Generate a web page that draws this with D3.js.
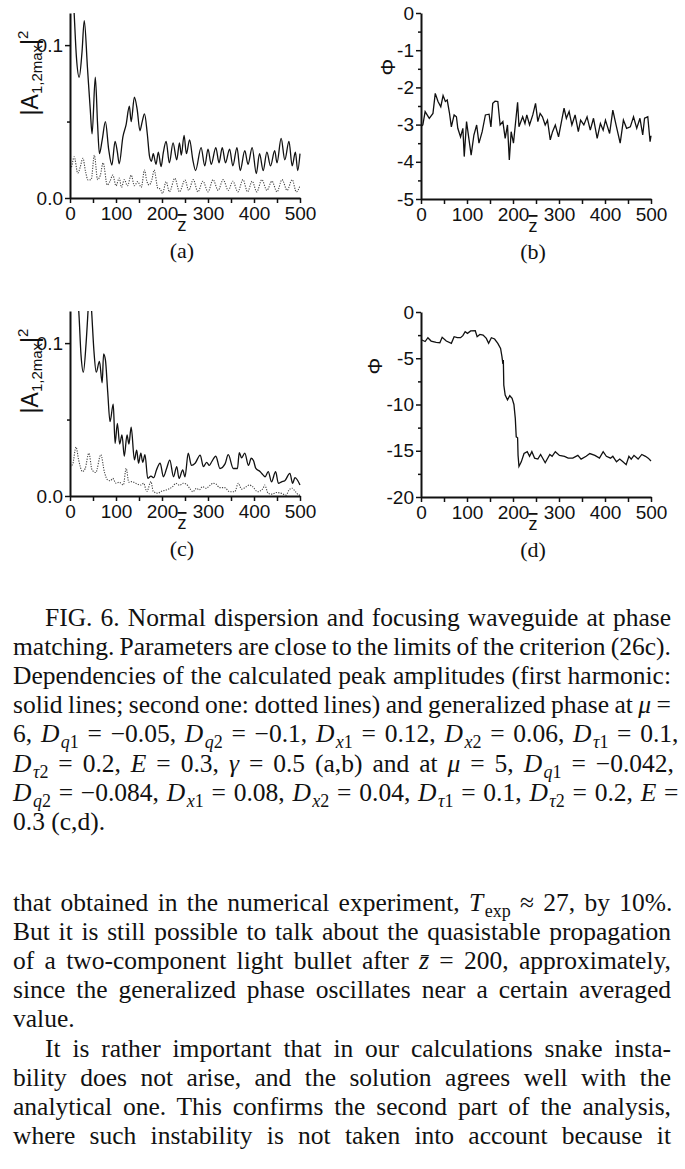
<!DOCTYPE html>
<html>
<head>
<meta charset="utf-8">
<title>Fig. 6</title>
<script src="https://d3js.org/d3.v7.min.js"></script>
<style>
  body { margin: 0; background: #fff; }
  .axis path.domain { fill: none; stroke: #111; stroke-width: 2px; }
  .axis line { stroke: #111; stroke-width: 1.5px; }
  .axis text { font-family: "Liberation Sans", Arial, sans-serif; font-size: 19px; fill: #111; }
  .solid { fill: none; stroke: #111; stroke-width: 1.3px; }
  .dotted { fill: none; stroke: #444; stroke-width: 1.1px; stroke-dasharray: 1.2, 1.3; }
  .lab { font-family: "Liberation Sans", Arial, sans-serif; fill: #111; }
  .cap { font-family: "Liberation Serif", "Times New Roman", serif; font-size: 22px; fill: #111; }
  .txt { font-family: "Liberation Serif", "Times New Roman", serif; font-size: 25.5px; fill: #111; }
</style>
</head>
<body>
<script>
// x ticks shared by all panels (labels only at hundreds)
var xTicks = [0, 50, 100, 150, 200, 250, 300, 350, 400, 450, 500];
var ampTicks = [0, 0.05, 0.1];
var phaseTicksB = [0, -0.5, -1, -1.5, -2, -2.5, -3, -3.5, -4, -4.5, -5];
var phaseTicksD = [0, -2.5, -5, -7.5, -10, -12.5, -15, -17.5, -20];
var panelNames = ["(a)", "(b)", "(c)", "(d)"];

// (a) first harmonic (solid) and second harmonic (dotted)
var aZ = [0,4,9,14,20,26,31,38,44,48,55,60,64,70,77,84,91,98,103,107,115,122,129,133,140,146,152,157,162,168,173,177,181,187,192,198,203,209,216,224,232,238,242,248,253,260,267,273,285,293,300,307,317,324,331,338,347,354,363,370,380,387,396,405,412,420,428,436,445,450,459,467,476,483,490,495,500];
var aSolid = [0.125,0.15,0.121,0.092,0.079,0.095,0.116,0.085,0.058,0.042,0.079,0.048,0.029,0.038,0.050,0.032,0.0216,0.037,0.030,0.0224,0.040,0.048,0.060,0.050,0.066,0.058,0.044,0.050,0.055,0.042,0.027,0.024,0.029,0.022,0.030,0.0205,0.030,0.037,0.023,0.036,0.025,0.036,0.028,0.041,0.029,0.038,0.025,0.018,0.033,0.021,0.032,0.022,0.033,0.023,0.033,0.023,0.032,0.021,0.033,0.018,0.031,0.022,0.033,0.016,0.029,0.018,0.030,0.021,0.031,0.023,0.039,0.025,0.037,0.021,0.030,0.018,0.029];
var aDotZ = [0,3,9,17,22,28,34,39,46,53,60,66,72,81,87,93,100,107,112,118,125,133,140,147,155,162,167,172,178,183,191,196,201,209,216,228,238,250,258,268,278,289,300,311,322,333,344,354,365,376,386,396,406,417,428,439,450,461,472,483,492,500];
var aDotted = [0.019,0.020,0.027,0.0163,0.020,0.026,0.017,0.0118,0.012,0.028,0.012,0.015,0.023,0.0085,0.011,0.015,0.008,0.013,0.007,0.012,0.008,0.015,0.008,0.0107,0.007,0.0183,0.011,0.0085,0.012,0.0183,0.0063,0.006,0.003,0.0107,0.004,0.0129,0.004,0.0118,0.005,0.012,0.004,0.011,0.004,0.012,0.005,0.012,0.005,0.011,0.004,0.012,0.004,0.011,0.004,0.012,0.005,0.011,0.004,0.012,0.005,0.012,0.004,0.008];

// (b) generalized phase
var bZ = [0,4,9,14,18,26,31,37,43,48,53,57,62,66,72,77,80,86,91,94,99,104,109,115,121,126,133,140,148,152,156,161,167,172,178,183,188,192,196,201,210,213,221,226,230,236,243,249,254,259,264,270,275,281,286,292,299,306,311,316,322,328,335,342,347,354,361,368,375,383,390,396,401,410,417,424,433,440,447,455,462,469,476,482,486,493,498,500];
var bPhase = [-3.05,-3.01,-2.65,-2.75,-2.83,-2.70,-2.16,-2.38,-2.52,-2.22,-2.38,-2.34,-2.70,-3.06,-2.74,-2.79,-3.10,-3.33,-3.10,-3.86,-2.92,-3.37,-3.82,-3.28,-3.01,-3.50,-3.19,-2.74,-2.72,-3.06,-2.43,-2.37,-2.38,-3.01,-2.92,-3.37,-3.01,-3.95,-3.19,-3.50,-2.40,-3.06,-2.79,-2.97,-2.74,-3.01,-2.74,-2.43,-2.92,-2.70,-2.79,-3.01,-2.88,-3.41,-3.19,-3.01,-3.33,-2.88,-2.56,-2.83,-2.65,-3.01,-2.74,-3.19,-2.88,-3.01,-2.79,-3.15,-2.83,-3.37,-2.97,-3.15,-2.88,-3.24,-2.61,-3.01,-3.50,-2.88,-3.10,-3.06,-2.79,-3.10,-2.83,-3.28,-2.83,-2.79,-3.46,-3.30];

// (c) first harmonic (solid) and second harmonic (dotted)
var cZ = [0,5,12,19,24,29,35,40,43,47,52,57,64,70,73,77,82,87,94,98,103,108,113,118,124,128,133,140,145,149,154,158,163,169,176,182,188,196,203,210,217,225,232,237,245,250,257,264,272,283,290,297,303,308,317,326,337,344,355,364,368,373,380,388,394,399,404,413,419,424,431,438,447,453,460,467,478,484,489,500];
var cSolid = [0.125,0.15,0.135,0.121,0.092,0.081,0.100,0.125,0.14,0.121,0.095,0.081,0.088,0.074,0.093,0.089,0.068,0.0486,0.060,0.0344,0.0475,0.034,0.040,0.026,0.040,0.034,0.045,0.0236,0.030,0.0215,0.028,0.022,0.027,0.0115,0.013,0.012,0.017,0.0215,0.0126,0.018,0.0235,0.0126,0.0192,0.0115,0.017,0.0126,0.028,0.020,0.0214,0.0268,0.0192,0.022,0.020,0.0224,0.026,0.018,0.021,0.027,0.018,0.018,0.0283,0.025,0.028,0.020,0.0247,0.023,0.018,0.016,0.014,0.0126,0.016,0.0093,0.0159,0.0083,0.0093,0.010,0.0148,0.0083,0.012,0.0072];
var cDotZ = [0,6,13,19,27,33,41,48,56,67,75,82,88,93,100,107,116,122,128,135,143,154,160,167,176,181,191,198,209,223,230,238,246,253,260,267,275,281,288,296,303,311,318,325,336,347,358,366,373,383,390,397,408,420,423,431,440,449,460,470,476,483,490,498,500];
var cDotted = [0.019,0.021,0.032,0.0233,0.016,0.018,0.028,0.017,0.0154,0.027,0.0154,0.0105,0.010,0.0115,0.0083,0.009,0.0072,0.0181,0.009,0.0094,0.0083,0.0072,0.0083,0.0029,0.0094,0.003,0.0018,0.003,0.0039,0.0061,0.0083,0.007,0.0083,0.0077,0.0051,0.0028,0.005,0.004,0.0061,0.005,0.0066,0.0083,0.0077,0.0055,0.0055,0.0028,0.0028,0.0083,0.0045,0.0061,0.0072,0.0061,0.0028,0.0051,0.0072,0.0017,0.0012,0.0023,0.0017,0.0006,0.0039,0.0051,0.0028,0.0006,0.0006];

// (d) generalized phase
var dZ = [0,2,9,15,22,33,41,46,55,66,72,79,86,91,96,101,108,118,122,128,135,142,147,153,160,167,173,176,178,179,180,183,188,193,198,202,205,207,210,211,213,218,224,231,236,241,247,254,260,270,280,285,292,301,312,320,330,341,348,359,367,378,388,396,403,412,417,425,432,439,446,452,457,463,472,480,488,494,500];
var dPhase = [-3.0,-3.03,-3.19,-2.78,-3.14,-3.28,-3.32,-2.74,-3.14,-3.39,-2.67,-2.78,-2.78,-2.56,-2.13,-2.31,-2.05,-2.02,-2.67,-2.42,-2.49,-2.85,-3.39,-2.78,-2.92,-3.39,-3.93,-4.83,-5.6,-5.2,-7.9,-8.98,-9.5,-9.05,-9.33,-10.0,-11.5,-13.5,-13.6,-15.5,-16.7,-16.2,-15.3,-15.1,-15.6,-15.1,-15.8,-15.9,-15.4,-16.3,-15.4,-15.6,-15.1,-15.5,-15.6,-15.8,-15.8,-15.5,-15.9,-15.6,-15.3,-15.5,-15.8,-15.1,-15.6,-15.8,-15.6,-16.2,-15.9,-16.2,-16.5,-15.6,-15.9,-15.5,-15.9,-15.4,-15.6,-15.8,-16.1];

// caption and running text, $..$ marks math
var captionLines = [
  "FIG. 6. Normal dispersion and focusing waveguide at phase",
  "matching. Parameters are close to the limits of the criterion (26c).",
  "Dependencies of the calculated peak amplitudes (first harmonic:",
  "solid lines; second one: dotted lines) and generalized phase at $μ$ =",
  "6, $D_q1$ = −0.05, $D_q2$ = −0.1, $D_x1$ = 0.12, $D_x2$ = 0.06, $D_τ1$ = 0.1,",
  "$D_τ2$ = 0.2, $E$ = 0.3, $γ$ = 0.5 (a,b) and at $μ$ = 5, $D_q1$ = −0.042,",
  "$D_q2$ = −0.084, $D_x1$ = 0.08, $D_x2$ = 0.04, $D_τ1$ = 0.1, $D_τ2$ = 0.2, $E$ =",
  "0.3 (c,d)."
];
var bodyLines = [
  "that obtained in the numerical experiment, $T_exp$ ≈ 27, by 10%.",
  "But it is still possible to talk about the quasistable propagation",
  "of a two-component light bullet after $z̄$ = 200, approximately,",
  "since the generalized phase oscillates near a certain averaged",
  "value.",
  "It is rather important that in our calculations snake insta-",
  "bility does not arise, and the solution agrees well with the",
  "analytical one. This confirms the second part of the analysis,",
  "where such instability is not taken into account because it"
];

var W = 685, H = 1169;
var svg = d3.select("body").append("svg")
    .attr("width", W)
    .attr("height", H);
svg.append("rect").attr("width", W).attr("height", H).attr("fill", "#fff");

var plotW = 230;

var panels = [
  { id: "a", left: 70, top: 13, bottom: 198, yDomain: [0, 0.121], yTicks: ampTicks, ylab: "amp",
    series: [{ z: aZ, v: aSolid, cls: "solid" }, { z: aDotZ, v: aDotted, cls: "dotted" }], smooth: true },
  { id: "b", left: 421, top: 13, bottom: 199, yDomain: [-5, 0], yTicks: phaseTicksB, ylab: "phi", labX: 395,
    series: [{ z: bZ, v: bPhase, cls: "solid" }], smooth: false },
  { id: "c", left: 70, top: 311, bottom: 496, yDomain: [0, 0.121], yTicks: ampTicks, ylab: "amp",
    series: [{ z: cZ, v: cSolid, cls: "solid" }, { z: cDotZ, v: cDotted, cls: "dotted" }], smooth: true },
  { id: "d", left: 421, top: 312, bottom: 497, yDomain: [-20, 0], yTicks: phaseTicksD, ylab: "phi", labX: 382,
    series: [{ z: dZ, v: dPhase, cls: "solid" }], smooth: false }
];

panels.forEach(function (p, i) {
    var x = d3.scaleLinear().domain([0, 500]).range([p.left, p.left + plotW]);
    var y = d3.scaleLinear().domain(p.yDomain).range([p.bottom, p.top]);
    var g = svg.append("g");

    var clipId = "clip-" + p.id;
    svg.append("clipPath").attr("id", clipId).append("rect")
        .attr("x", p.left).attr("y", p.top)
        .attr("width", plotW + 2).attr("height", p.bottom - p.top);

    var line = d3.line()
        .x(function (d) { return x(d[0]); })
        .y(function (d) { return y(d[1]); })
        .curve(p.smooth ? d3.curveMonotoneX : d3.curveLinear);

    p.series.forEach(function (s) {
        g.append("path")
            .datum(d3.zip(s.z, s.v))
            .attr("class", s.cls)
            .attr("clip-path", "url(#" + clipId + ")")
            .attr("d", line);
    });

    // x axis
    g.append("g")
        .attr("class", "axis")
        .attr("transform", "translate(0," + p.bottom + ")")
        .call(d3.axisBottom(x).tickValues(xTicks).tickSize(5).tickPadding(4).tickSizeOuter(0)
            .tickFormat(function (d) { return d % 100 === 0 ? d : ""; }));

    // y axis, minor ticks shorter
    var yFmt = p.ylab === "amp"
        ? function (d) { return d === 0.05 ? "" : d.toFixed(1); }
        : function (d) { return d % 5 === 0 && p.id === "d" || (p.id === "b" && Number.isInteger(d)) ? String(d) : ""; };
    var ya = g.append("g")
        .attr("class", "axis")
        .attr("transform", "translate(" + p.left + ",0)")
        .call(d3.axisLeft(y).tickValues(p.yTicks).tickSize(5).tickPadding(2).tickSizeOuter(0)
            .tickFormat(yFmt));
    ya.selectAll(".tick").filter(function (d) { return yFmt(d) === ""; })
        .select("line").attr("x2", -3);

    // y label
    var cy = p.top + (p.ylab === "amp" ? 60 : 54);
    if (p.ylab === "amp") {
        var t = g.append("text").attr("class", "lab")
            .attr("text-anchor", "middle")
            .attr("transform", "translate(38," + cy + ") rotate(-90)");
        t.append("tspan").style("font-size", "23px").text("|A");
        t.append("tspan").style("font-size", "15px").attr("dy", 4).text("1,2max");
        t.append("tspan").style("font-size", "23px").attr("dy", -4).text("|");
        t.append("tspan").style("font-size", "15px").attr("dy", -10).text("2");
    } else {
        g.append("text").attr("class", "lab")
            .attr("text-anchor", "middle")
            .style("font-size", "21px")
            .attr("transform", "translate(" + p.labX + "," + cy + ") rotate(-90)")
            .text("Φ");
    }

    // x label: z with overbar
    var cx = p.left + plotW / 2 - 3;
    g.append("text").attr("class", "lab")
        .attr("x", cx).attr("y", p.bottom + 33)
        .attr("text-anchor", "middle")
        .style("font-size", "18px")
        .style("text-decoration", "overline")
        .text("z");

    // panel letter
    g.append("text").attr("class", "cap")
        .attr("x", cx).attr("y", p.bottom + 60)
        .attr("text-anchor", "middle")
        .text(panelNames[i]);
});

// --- text below the figure ---
function parseLine(str) {
    var segs = [];
    str.split(/(\$[^$]*\$)/).forEach(function (part) {
        if (!part) return;
        if (part[0] !== "$") { segs.push([part, ""]); return; }
        var m = part.slice(1, -1).split("_");
        segs.push([m[0], "i"]);
        if (m[1]) {
            if (m[1] === "exp") segs.push([m[1], "sub"]);
            else m[1].split("").forEach(function (c) {
                segs.push([c, /\d/.test(c) ? "sub" : "subi"]);
            });
        }
    });
    return segs;
}

function textLine(str, y, x0, x1, justify) {
    var t = svg.append("text").attr("class", "txt").attr("x", x0).attr("y", y);
    var shift = 0;
    parseLine(str).forEach(function (s) {
        var ts = t.append("tspan").text(s[0]);
        var dy = s[1].indexOf("sub") === 0 ? 6 : 0;
        if (dy) ts.style("font-size", "18px");
        if (dy && !shift) ts.attr("dx", 1.5);   // small gap after the italic letter
        if (s[1].indexOf("i") >= 0) ts.style("font-style", "italic");
        if (dy !== shift) ts.attr("dy", dy - shift);
        shift = dy;
    });
    if (justify) {
        var w = t.node().getComputedTextLength();
        var n = (t.text().match(/ /g) || []).length;
        if (n) t.style("word-spacing", ((x1 - x0 - w) / n) + "px");
    }
}

var left = 13, right = 671, indent = 45, lineH = 29.1;
captionLines.forEach(function (s, i) {
    textLine(s, 626 + i * lineH, i === 0 ? indent : left, right, i < captionLines.length - 1);
});
bodyLines.forEach(function (s, i) {
    textLine(s, 911 + i * lineH, i === 5 ? indent : left, right, i !== 4);
});
</script>
</body>
</html>
